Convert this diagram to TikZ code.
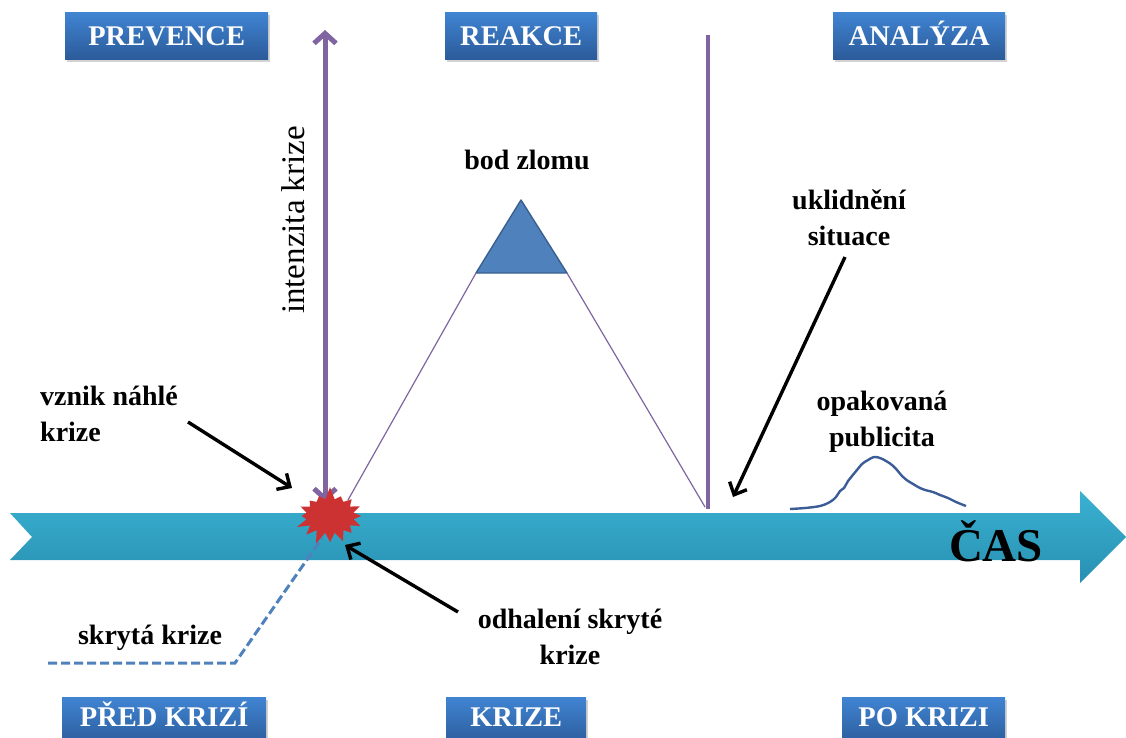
\documentclass[tikz,border=0pt]{standalone}
\usepackage{fontspec}
\setmainfont{Liberation Serif}
\usetikzlibrary{arrows.meta,shadows,shapes.symbols}

\definecolor{boxtop}{HTML}{4084D2}
\definecolor{boxbot}{HTML}{2B5B9A}
\definecolor{timetop}{HTML}{3AB1D1}
\definecolor{timebot}{HTML}{2890B2}
\definecolor{axiscol}{HTML}{8064A2}
\definecolor{peakfill}{HTML}{4F81BD}
\definecolor{peakedge}{HTML}{3A5F8F}
\definecolor{burstcol}{HTML}{CC3232}
\definecolor{curvecol}{HTML}{3B5C96}
\definecolor{dashcol}{HTML}{4F81BD}

\begin{document}
\begin{tikzpicture}[x=1pt,y=-1pt,
  phase/.style={draw=none, top color=boxtop, bottom color=boxbot,
    drop shadow={shadow xshift=1.5pt, shadow yshift=-2.5pt, opacity=0.35},
    text=white, font=\fontsize{28.5}{31}\selectfont\bfseries,
    inner sep=0pt, anchor=north west, text height=19pt, text depth=0pt},
  lowphase/.style={phase, minimum height=48pt, text depth=8pt},
  lbl/.style={font=\fontsize{28}{36}\selectfont\bfseries, align=center, inner sep=0pt},
  pointer/.style={line width=3.4pt, black,
    -{Straight Barb[length=10pt, width=19pt, line width=3.4pt]}},
  axisline/.style={line width=5pt, axiscol},
  thinline/.style={line width=1.2pt, axiscol}
]
\useasboundingbox (0,0) rectangle (1126,738);

% time arrow
\path[top color=timetop, bottom color=timebot, draw=none]
  (10,513) -- (1080,513) -- (1080,491) -- (1126,537) -- (1080,583)
  -- (1080,560) -- (10,560) -- (32,537) -- cycle;
\node[font=\fontsize{47}{50}\selectfont\bfseries] (cas) at (996,541) {ČAS};

% phase boxes
\node[phase, minimum width=203pt, minimum height=47pt] (prev) at (65,12) {PREVENCE};
\node[phase, minimum width=152pt, minimum height=47pt] (reak) at (445,12) {REAKCE};
\node[phase, minimum width=172pt, minimum height=47pt] (anal) at (833,12) {ANALÝZA};
\node[lowphase, minimum width=204pt] (pred) at (62,697) {PŘED KRIZÍ};
\node[lowphase, minimum width=140pt] (krize) at (446,697) {KRIZE};
\node[lowphase, minimum width=163pt] (po) at (842,697) {PO KRIZI};

% hidden crisis dashed path
\coordinate (skstart) at (48,663);
\coordinate (skbend) at (235,663);
\coordinate (skend) at (322,538);
\draw[dashcol, line width=3pt, dash pattern=on 9pt off 4pt] (skstart) -- (skbend) -- (skend);
\node[lbl] (skryta) at (150,638) {skrytá krize};

% breaking point triangle
\coordinate (apex) at (521,200);
\coordinate (tl) at (476,273);
\coordinate (tr) at (567,273);
\draw[fill=peakfill, draw=peakedge, line width=1.4pt, line join=round] (apex) -- (tl) -- (tr) -- cycle;
\node[lbl] (bod) at (527,160) {bod zlomu};

% thin rise and fall lines
\coordinate (risestart) at (348,500);
\coordinate (fallend) at (705,507);
\draw[thinline] (risestart) -- (tl);
\draw[thinline] (tr) -- (fallend);

% vertical lines
\coordinate (axtop) at (325,30);
\coordinate (axbot) at (325,502);
\draw[axisline, {Straight Barb[length=10pt, width=22pt, line width=5pt]}-{Straight Barb[length=10pt, width=22pt, line width=5pt]}] (axtop) -- (axbot);
\node[font=\fontsize{33}{35}\selectfont, rotate=90, inner sep=0pt] (intenz) at (293,220) {intenzita krize};

\coordinate (endtop) at (708,35);
\coordinate (endbot) at (708,509);
\draw[axiscol, line width=4.4pt] (endtop) -- (endbot);

% outbreak starburst
\node[starburst, fill=burstcol, draw=none, minimum width=74pt, minimum height=60pt,
  starburst point height=13pt, starburst points=16, random starburst=7] (burst) at (330,516) {};

% labels with pointers
\node[lbl, align=left, anchor=west] (vznik) at (40,414) {vznik náhlé\\krize};
\coordinate (vznikhead) at (292,488);
\draw[pointer] (188,422) -- (vznikhead);

\node[lbl] (odhal) at (570,637) {odhalení skryté\\krize};
\coordinate (odhalhead) at (345,545);
\draw[pointer] (458,612) -- (odhalhead);

\node[lbl] (uklid) at (849,218) {uklidnění\\situace};
\coordinate (uklidhead) at (733,497);
\draw[pointer] (845,257) -- (uklidhead);

\node[lbl] (opak) at (882,422) {opakovaná\\publicita};

% repeated publicity curve
\draw[curvecol, line width=2.4pt, line join=round] plot[smooth, tension=0.6] coordinates {
  (790,509) (805,508) (820,506) (830,502) (836,497) (840,491) (844,488)
  (848,481) (852,476) (857,470) (862,464) (868,460) (874,457) (880,458)
  (886,461) (892,465) (897,470) (902,476) (908,481) (913,484) (918,487)
  (925,490) (933,492) (940,495) (948,498) (956,502) (966,506)};

\end{tikzpicture}
\end{document}
